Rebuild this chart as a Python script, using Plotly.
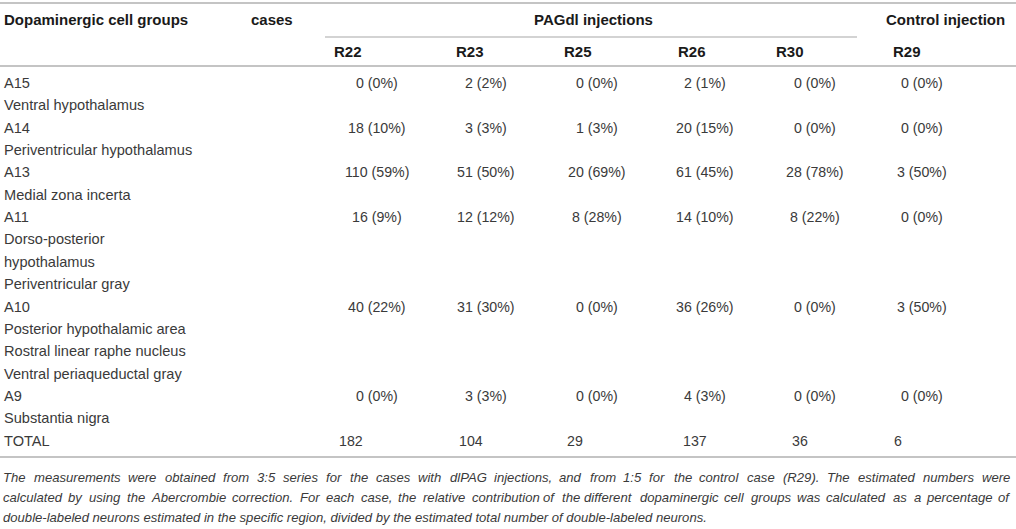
import plotly.graph_objects as go

# ---- data ----
groups = ["A15", "A14", "A13", "A11", "A10", "A9"]
subregions = [
    ["Ventral hypothalamus"],
    ["Periventricular hypothalamus"],
    ["Medial zona incerta"],
    ["Dorso-posterior", "hypothalamus", "Periventricular gray"],
    ["Posterior hypothalamic area", "Rostral linear raphe nucleus", "Ventral periaqueductal gray"],
    ["Substantia nigra"],
]
cases = ["R22", "R23", "R25", "R26", "R30", "R29"]
counts_R22 = [0, 18, 110, 16, 40, 0]
counts_R23 = [2, 3, 51, 12, 31, 3]
counts_R25 = [0, 1, 20, 8, 0, 0]
counts_R26 = [2, 20, 61, 14, 36, 4]
counts_R30 = [0, 0, 28, 8, 0, 0]
counts_R29 = [0, 0, 3, 0, 3, 0]
pct_R22 = [0, 10, 59, 9, 22, 0]
pct_R23 = [2, 3, 50, 12, 30, 3]
pct_R25 = [0, 3, 69, 28, 0, 0]
pct_R26 = [1, 15, 45, 10, 26, 3]
pct_R30 = [0, 0, 78, 22, 0, 0]
pct_R29 = [0, 0, 50, 0, 50, 0]
totals = [182, 104, 29, 137, 36, 6]

header_first = "Dopaminergic cell groups"
header_cases = "cases"
header_pag = "PAGdl injections"
header_ctrl = "Control injection"
total_label = "TOTAL"
caption_lines = [
    "The measurements were obtained from 3:5 series for the cases with dlPAG injections, and from 1:5 for the control case (R29). The estimated numbers were",
    "calculated by using the Abercrombie correction. For each case, the relative contribution of the different dopaminergic cell groups was calculated as a percentage of",
    "double-labeled neurons estimated in the specific region, divided by the estimated total number of double-labeled neurons.",
]

counts = [counts_R22, counts_R23, counts_R25, counts_R26, counts_R30, counts_R29]
pcts = [pct_R22, pct_R23, pct_R25, pct_R26, pct_R30, pct_R29]

# ---- layout / style ----
W, H = 1016, 529
FONT = "Liberation Sans"
BODY = dict(family=FONT, size=14.6, color="#3a3a3a")
VAL = dict(family=FONT, size=14.2, color="#3a3a3a")
BOLD = dict(family=FONT, size=15, color="#1a1a1a", weight="bold")
CAP_SIZE = 13.1
CAP = dict(family=FONT, size=CAP_SIZE, color="#3a3a3a", style="italic")
LINE = "#c4c4c4"

header_x = [333, 455, 563, 677, 775, 892]
value_cx = [377, 486, 597, 705, 815, 922]
total_x = [338, 458, 566, 682, 791, 893]
row0 = 83
step = 22.35

# approximate Arial/Liberation advance widths (per 1000 em) for justification
_w = {c: 556 for c in "abdeghnopqu0123456789"}
_w.update({"c": 500, "k": 500, "s": 500, "v": 500, "x": 500, "y": 500, "z": 500,
           "f": 278, "t": 278, "i": 222, "j": 222, "l": 222, "r": 333, "m": 833, "w": 722,
           " ": 278, ".": 278, ",": 278, ":": 278, "(": 333, ")": 333, "-": 333,
           "T": 611, "F": 611, "R": 722, "P": 667, "A": 667, "G": 778})
def text_w(s, size):
    return sum(_w.get(ch, 600) for ch in s) * size / 1000.0

anns = []
def add(x, y, text, font, anchor="left"):
    anns.append(dict(x=x, y=y, xref="x", yref="y", text=text, showarrow=False,
                     xanchor=anchor, yanchor="middle", font=font, borderpad=0))

add(3, 19, header_first, BOLD)
add(250, 19, header_cases, BOLD)
add(533, 19, header_pag, BOLD)
add(885, 19, header_ctrl, BOLD)
for hx, c in zip(header_x, cases):
    add(hx, 51, c, BOLD)

line_i = 0
for gi, g in enumerate(groups):
    y = row0 + step * line_i
    add(3, y, g, BODY)
    for ci in range(len(cases)):
        add(value_cx[ci], y, f"{counts[ci][gi]} ({pcts[ci][gi]}%)", VAL, "center")
    line_i += 1
    for s in subregions[gi]:
        add(3, row0 + step * line_i, s, BODY)
        line_i += 1
ytot = row0 + step * line_i
add(3, ytot, total_label, BODY)
for tx, t in zip(total_x, totals):
    add(tx, ytot, str(t), VAL)

# caption: first lines justified (left half laid out from the left edge,
# right half from the right edge), last line natural
cap_left, cap_right = 2, 1011
for k, ln in enumerate(caption_lines):
    y = 477 + 20.3 * k
    if k == len(caption_lines) - 1:
        add(cap_left, y, ln, CAP)
        continue
    words = ln.split(" ")
    n = len(words)
    widths = [text_w(wd, CAP_SIZE) for wd in words]
    space = text_w(" ", CAP_SIZE)
    natural = sum(widths) + space * (n - 1)
    gap = space + (cap_right - cap_left - natural) / (n - 1)
    half = n // 2
    x = cap_left
    for wi in range(half):
        add(x, y, words[wi], CAP)
        x += widths[wi] + gap
    xr = cap_right
    for wi in range(n - 1, half - 1, -1):
        add(xr, y, words[wi], CAP, "right")
        xr -= widths[wi] + gap

shapes = [
    dict(type="line", xref="x", yref="y", x0=0, x1=W, y0=3, y1=3, line=dict(color=LINE, width=2)),
    dict(type="line", xref="x", yref="y", x0=325, x1=857, y0=37, y1=37, line=dict(color=LINE, width=1.5)),
    dict(type="line", xref="x", yref="y", x0=0, x1=W, y0=66, y1=66, line=dict(color=LINE, width=2)),
    dict(type="line", xref="x", yref="y", x0=0, x1=W, y0=457, y1=457, line=dict(color=LINE, width=2)),
]

fig = go.Figure()
fig.add_trace(go.Scatter(x=[0, W], y=[0, H], mode="markers", marker=dict(opacity=0),
                         hoverinfo="skip", showlegend=False))
fig.update_layout(
    width=W, height=H, margin=dict(l=0, r=0, t=0, b=0),
    paper_bgcolor="white", plot_bgcolor="white",
    xaxis=dict(range=[0, W], visible=False, fixedrange=True),
    yaxis=dict(range=[H, 0], visible=False, fixedrange=True),
    annotations=anns, shapes=shapes, showlegend=False,
)
fig.write_html("out.html", config={"displayModeBar": False},
               post_script="document.body.style.margin='0';document.body.style.overflow='hidden';")
